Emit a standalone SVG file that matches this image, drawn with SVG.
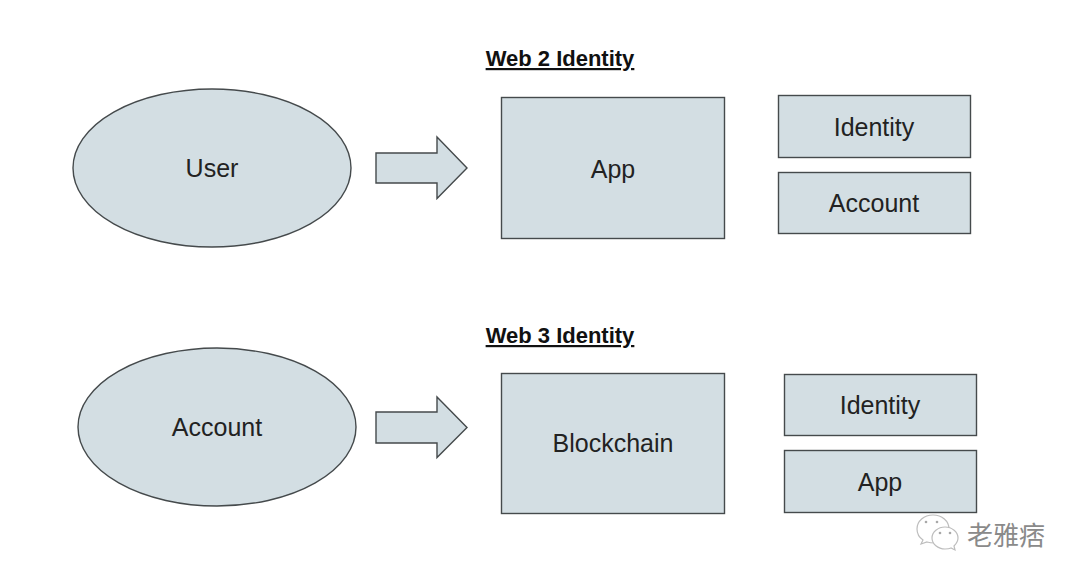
<svg xmlns="http://www.w3.org/2000/svg" width="1080" height="582" viewBox="0 0 1080 582">
<style>
.s{fill:#d3dee3;stroke:#454a4c;stroke-width:1.4}
.t{font-family:"Liberation Sans",Arial,sans-serif;font-size:25px;fill:#222;text-anchor:middle}
.h{font-family:"Liberation Sans",Arial,sans-serif;font-size:22px;font-weight:bold;fill:#111;text-anchor:middle;text-decoration:underline}
.w{fill:#fff;stroke:#bdbdbd;stroke-width:1.2}
.d{fill:#a8a8a8}
</style>
<rect width="1080" height="582" fill="#fff"/>
<text class="h" x="560" y="66">Web 2 Identity</text>
<text class="h" x="560" y="343">Web 3 Identity</text>
<g id="connectors">
<path class="s" d="M376 153H437V137L467 168L437 198.500V183H376Z"/>
<path class="s" d="M376 412H437V397L467 427.500L437 457.500V443H376Z"/>
</g>
<g id="user"><ellipse class="s" cx="212" cy="168" rx="139" ry="79"/><text class="t" x="212" y="177">User</text></g>
<g id="app-web2"><rect class="s" x="501.500" y="97.500" width="223" height="141"/><text class="t" x="613" y="178">App</text></g>
<g id="identity-web2"><rect class="s" x="778.500" y="95.500" width="192" height="62"/><text class="t" x="874" y="136">Identity</text></g>
<g id="account-web2"><rect class="s" x="778.500" y="172.500" width="192" height="61"/><text class="t" x="874" y="212">Account</text></g>
<g id="account"><ellipse class="s" cx="217" cy="427" rx="139" ry="79"/><text class="t" x="217" y="436">Account</text></g>
<g id="blockchain"><rect class="s" x="501.500" y="373.500" width="223" height="140"/><text class="t" x="613" y="452">Blockchain</text></g>
<g id="identity-web3"><rect class="s" x="784.500" y="374.500" width="192" height="61"/><text class="t" x="880" y="414">Identity</text></g>
<g id="app-web3"><rect class="s" x="784.500" y="450.500" width="192" height="62"/><text class="t" x="880" y="491">App</text></g>
<g id="watermark">
<path class="w" d="M933 515C924 515 917 521 917 529C917 534 920 538 923 540L921 544L927 542C930 543 933 543 935 543C943 543 949 537 949 529C949 521 942 515 933 515Z"/>
<path class="w" d="M945 527C938 527 932 532 932 538C932 544 938 549 945 549C947 549 949 549 951 548L955 550L954 546C956 544 958 541 958 538C958 532 952 527 945 527Z"/>
<circle class="d" cx="926" cy="522" r="1.300"/><circle class="d" cx="937" cy="522" r="1.300"/>
<circle class="d" cx="940" cy="533" r="1.300"/><circle class="d" cx="950" cy="533" r="1.300"/>
<text x="1006" y="545" font-family="'Noto Sans CJK SC',sans-serif" font-size="26" fill="#8a8a8a" text-anchor="middle">老雅痞</text>
</g>
</svg>
